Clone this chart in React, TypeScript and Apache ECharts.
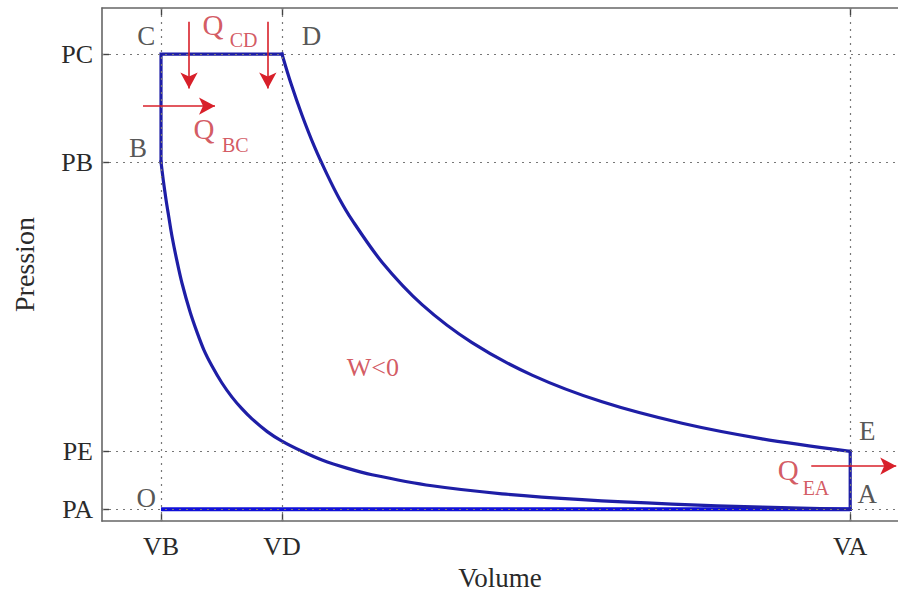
import React, { useEffect, useRef } from "react";
import * as echarts from "echarts";

// Tick labels (volume / pressure levels of the Diesel cycle)
const xTickNames = ["VB", "VD", "VA"];
const xTickValues = [1, 3.05, 12.68];
const yTickNames = ["PA", "PE", "PB", "PC"];
const yTickValues = [1, 5.92, 30.5, 39.67];

// Compression A -> B (increasing volume)
const compV = [1.0, 1.04, 1.085, 1.13, 1.186, 1.27, 1.356, 1.492, 1.61, 1.73, 1.864, 2.03, 2.203, 2.37, 2.542, 2.8, 3.05, 3.38, 3.729, 4.15, 4.576, 5.593, 6.78, 8.136, 9.66, 11.19, 12.68];
const compP = [30.5, 28.9, 27.3, 25.9, 24.2, 22.1, 20.2, 17.78, 16.05, 14.5, 13.17, 11.75, 10.53, 9.55, 8.68, 7.6, 6.79, 5.95, 5.19, 4.5, 3.94, 3.0, 2.32, 1.82, 1.44, 1.18, 1.0];

// Expansion D -> E
const expV = [3.05, 3.2, 3.39, 3.6, 3.814, 4.02, 4.237, 4.746, 5.424, 6.271, 7.288, 8.475, 9.831, 11.186, 12.68];
const expP = [39.67, 37.2, 34.47, 31.8, 29.45, 27.4, 25.58, 21.99, 18.39, 15.16, 12.4, 10.13, 8.31, 6.99, 5.92];

const SERIF = "Liberation Serif, Times New Roman, serif";
const RED = "#d8202a";
const RED_TXT = "#c8303a";
const BLUE = "#1e1ea6";

export default function App() {
  const ref = useRef<HTMLDivElement>(null);
  useEffect(() => {
    if (!ref.current) return;
    const chart = echarts.init(ref.current, null, { renderer: "svg" });

    const VB = xTickValues[0], VD = xTickValues[1], VA = xTickValues[2];
    const PA = yTickValues[0], PE = yTickValues[1], PB = yTickValues[2], PC = yTickValues[3];

    const compression = compV.map((v, i) => [v, compP[i]]);
    const expansion = expV.map((v, i) => [v, expP[i]]);
    const straight = [
      [VB, PB],
      [VB, PC],
      [VD, PC],
    ];
    const straightEA = [
      [VA, PE],
      [VA, PA],
    ];

    const xName = (v: number) => {
      const i = xTickValues.findIndex((t) => Math.abs(t - v) < 1e-6);
      return i >= 0 ? xTickNames[i] : "";
    };
    const yName = (v: number) => {
      const i = yTickValues.findIndex((t) => Math.abs(t - v) < 1e-6);
      return i >= 0 ? yTickNames[i] : "";
    };

    const texts = [
      { t: "C", c: [0.75, 41.17], s: 27, col: "#2a2a2a" },
      { t: "D", c: [3.55, 41.17], s: 27, col: "#2a2a2a" },
      { t: "B", c: [0.61, 31.67], s: 27, col: "#2a2a2a" },
      { t: "O", c: [0.75, 2.0], s: 27, col: "#2a2a2a" },
      { t: "E", c: [12.97, 7.67], s: 27, col: "#2a2a2a" },
      { t: "A", c: [12.97, 2.33], s: 27, col: "#2a2a2a" },
      { t: "W<0", c: [4.59, 13.08], s: 26, col: RED_TXT },
      { t: "Q", c: [1.88, 42.17], s: 29, col: RED_TXT },
      { t: "CD", c: [2.4, 40.83], s: 20, col: RED_TXT },
      { t: "Q", c: [1.73, 33.33], s: 29, col: RED_TXT },
      { t: "BC", c: [2.26, 31.92], s: 20, col: RED_TXT },
      { t: "Q", c: [11.63, 4.33], s: 29, col: RED_TXT },
      { t: "EA", c: [12.1, 2.83], s: 20, col: RED_TXT },
    ];

    const arrows = [
      [[1.475, 42.42], [1.475, 36.75]],
      [[2.81, 42.42], [2.81, 36.75]],
      [[0.695, 35.25], [1.915, 35.25]],
      [[12.02, 4.67], [13.46, 4.67]],
    ];

    const gridLine = {
      color: "#777",
      type: [2, 5] as any,
      width: 1.2,
    };

    const curveLine = (data: number[][], smooth: boolean | number) => ({
      type: "line",
      data,
      showSymbol: false,
      symbol: "none",
      smooth,
      lineStyle: { color: BLUE, width: 3.2, join: "miter", cap: "square" },
      z: 4,
      silent: true,
    });

    const option: any = {
      animation: false,
      backgroundColor: "#fff",
      grid: { left: 102, top: 8, width: 796, height: 523, show: false },
      xAxis: [
        {
          type: "value",
          min: 0,
          max: 13.49,
          position: "bottom",
          name: "Volume",
          nameLocation: "middle",
          nameGap: 35,
          nameTextStyle: { fontFamily: SERIF, fontSize: 27, color: "#2a2a2a" },
          axisLine: { show: true, onZero: false, lineStyle: { color: "#666", width: 1.6 } },
          axisTick: { show: true, inside: true, length: 7, customValues: xTickValues, lineStyle: { color: "#444", width: 1.4 } },
          axisLabel: {
            show: true,
            customValues: xTickValues,
            formatter: (v: number) => xName(v),
            margin: 12,
            fontFamily: SERIF,
            fontSize: 26,
            color: "#2a2a2a",
          },
          splitLine: { show: false },
        },
        {
          type: "value",
          min: 0,
          max: 13.49,
          position: "top",
          axisLine: { show: true, onZero: false, lineStyle: { color: "#666", width: 1.6 } },
          axisTick: { show: true, inside: true, length: 7, customValues: xTickValues, lineStyle: { color: "#444", width: 1.4 } },
          axisLabel: { show: false },
          splitLine: { show: false },
        },
      ],
      yAxis: {
        type: "value",
        min: 0,
        max: 43.58,
        name: "Pression",
        nameLocation: "middle",
        nameGap: 64,
        nameTextStyle: { fontFamily: SERIF, fontSize: 28, color: "#2a2a2a" },
        axisLine: { show: true, onZero: false, lineStyle: { color: "#666", width: 1.6 } },
        axisTick: { show: true, inside: true, length: 7, customValues: yTickValues, lineStyle: { color: "#444", width: 1.4 } },
        axisLabel: {
          show: true,
          customValues: yTickValues,
          formatter: (v: number) => yName(v),
          margin: 9,
          fontFamily: SERIF,
          fontSize: 26,
          color: "#2a2a2a",
        },
        splitLine: { show: false },
      },
      series: [
        {
          name: "grid",
          type: "line",
          data: [],
          silent: true,
          z: 1,
          markLine: {
            silent: true,
            symbol: ["none", "none"],
            label: { show: false },
            lineStyle: gridLine,
            data: [
              ...xTickValues.map((v) => ({ xAxis: v })),
              ...yTickValues.map((v) => ({ yAxis: v })),
            ],
          },
        },
        {
          name: "admission",
          type: "line",
          data: [
            [VB, PA],
            [VA, PA],
          ],
          showSymbol: false,
          symbol: "none",
          lineStyle: { color: "#1010d8", width: 4 },
          z: 3,
          silent: true,
        },
        { name: "compression", ...curveLine(compression, 0.3) },
        { name: "combustion", ...curveLine(straight, false) },
        { name: "expansion", ...curveLine(expansion, 0.3) },
        { name: "echappement", ...curveLine(straightEA, false) },
        {
          name: "arrows",
          type: "line",
          data: [],
          z: 5,
          markLine: {
            silent: true,
            symbol: ["none", "arrow"],
            symbolSize: [13, 16],
            label: { show: false },
            lineStyle: { color: RED, width: 1.6, type: "solid" },
            data: arrows.map((a) => [{ coord: a[0] }, { coord: a[1] }]),
          },
        },
        {
          name: "texts",
          type: "scatter",
          symbol: "circle",
          symbolSize: 1,
          itemStyle: { color: "rgba(0,0,0,0)" },
          silent: true,
          z: 6,
          data: texts.map((d) => ({
            value: d.c,
            label: {
              show: true,
              position: "inside",
              formatter: d.t,
              fontFamily: SERIF,
              fontSize: d.s,
              color: d.col,
            },
          })),
        },
      ],
    };
    chart.setOption(option);
    return () => chart.dispose();
  }, []);

  return (
    <div
      ref={ref}
      style={{ position: "fixed", left: 0, top: 0, width: 898, height: 596, background: "#fff" }}
    />
  );
}
